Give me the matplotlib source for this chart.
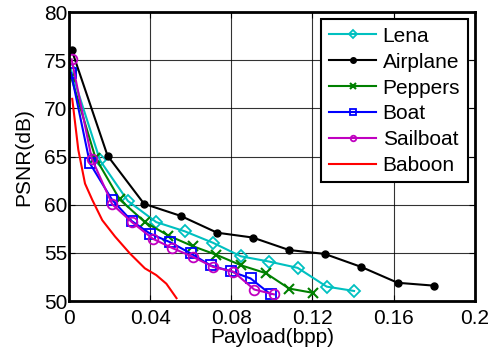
import numpy as np
import matplotlib.pyplot as plt

plt.rcParams['font.family'] = ['Liberation Sans', 'DejaVu Sans']

# payload (bpp) and PSNR (dB)
lena_x = [0.001, 0.0153, 0.029, 0.043, 0.057, 0.071, 0.0847, 0.0987, 0.1127, 0.127, 0.1405]
lena_y = [74.0, 64.6, 60.4, 58.2, 57.25, 56.05, 54.65, 54.1, 53.45, 51.5, 51.05]

airplane_x = [0.0013, 0.019, 0.037, 0.055, 0.073, 0.0905, 0.1085, 0.126, 0.144, 0.162, 0.18]
airplane_y = [76.1, 65.1, 60.1, 58.85, 57.1, 56.6, 55.3, 54.9, 53.55, 51.9, 51.6]

peppers_x = [0.001, 0.013, 0.025, 0.0374, 0.049, 0.061, 0.0727, 0.085, 0.097, 0.1085, 0.1204]
peppers_y = [73.3, 64.9, 60.55, 58.2, 56.8, 55.7, 54.8, 53.7, 52.9, 51.3, 50.85]

boat_x = [0.001, 0.0103, 0.0213, 0.031, 0.040, 0.050, 0.060, 0.0698, 0.0797, 0.0895, 0.0994]
boat_y = [73.7, 64.3, 60.5, 58.3, 57.0, 56.1, 54.95, 53.7, 53.1, 52.35, 50.7]

sailboat_x = [0.0013, 0.0112, 0.0213, 0.031, 0.0415, 0.051, 0.061, 0.071, 0.081, 0.0913, 0.101]
sailboat_y = [75.1, 64.8, 60.05, 58.2, 56.45, 55.5, 54.6, 53.55, 53.05, 51.2, 50.7]

baboon_x = [0.0016, 0.0046, 0.0079, 0.0115, 0.0164, 0.0227, 0.030, 0.0374, 0.043, 0.048, 0.053]
baboon_y = [71.0, 65.7, 62.2, 60.5, 58.4, 56.7, 54.95, 53.4, 52.7, 51.8, 50.3]

x_ticks = [0, 0.04, 0.08, 0.12, 0.16, 0.2]
x_labels = ['0', '0.04', '0.08', '0.12', '0.16', '0.2']
y_ticks = [50, 55, 60, 65, 70, 75, 80]

fig = plt.figure(figsize=(4.91, 3.58), dpi=100)
ax = fig.add_axes([0.1405, 0.159, 0.8265, 0.807])

ax.plot(lena_x, lena_y, color='#00c0c0', marker='D', markersize=6, mfc='none', mew=1.3, lw=1.5, label='Lena')
ax.plot(airplane_x, airplane_y, color='black', marker='o', markersize=5, lw=1.5, label='Airplane')
ax.plot(peppers_x, peppers_y, color='#008000', marker='x', markersize=7, mew=1.5, lw=1.5, label='Peppers')
ax.plot(boat_x, boat_y, color='#0000ff', marker='s', markersize=7, mfc='none', mew=1.3, lw=1.5, label='Boat')
ax.plot(sailboat_x, sailboat_y, color='#c000c0', marker='o', markersize=7, mfc='none', mew=1.3, lw=1.5, label='Sailboat')
ax.plot(baboon_x, baboon_y, color='red', lw=1.5, label='Baboon')

ax.set_xlim(0, 0.2)
ax.set_ylim(50, 80)
ax.set_xticks(x_ticks)
ax.set_xticklabels(x_labels)
ax.set_yticks(y_ticks)
ax.tick_params(direction='in', labelsize=15, length=4, top=True, right=True, pad=1)
ax.tick_params(axis='x', pad=6)
ax.grid(True, color='black', lw=0.8, alpha=0.8)
for s in ax.spines.values():
    s.set_linewidth(2)

ax.set_xlabel('Payload(bpp)', fontsize=15, labelpad=0)
ax.set_ylabel('PSNR(dB)', fontsize=15, labelpad=8)

leg = ax.legend(loc='upper right', fontsize=15, fancybox=False, framealpha=1,
                edgecolor='black', handlelength=2.3, borderaxespad=0.35,
                labelspacing=0.33, handletextpad=0.3, borderpad=0.35)
leg.get_frame().set_linewidth(1.5)
for h in leg.legend_handles:
    h.set_markersize(4)

fig.savefig('out.png', dpi=100)
